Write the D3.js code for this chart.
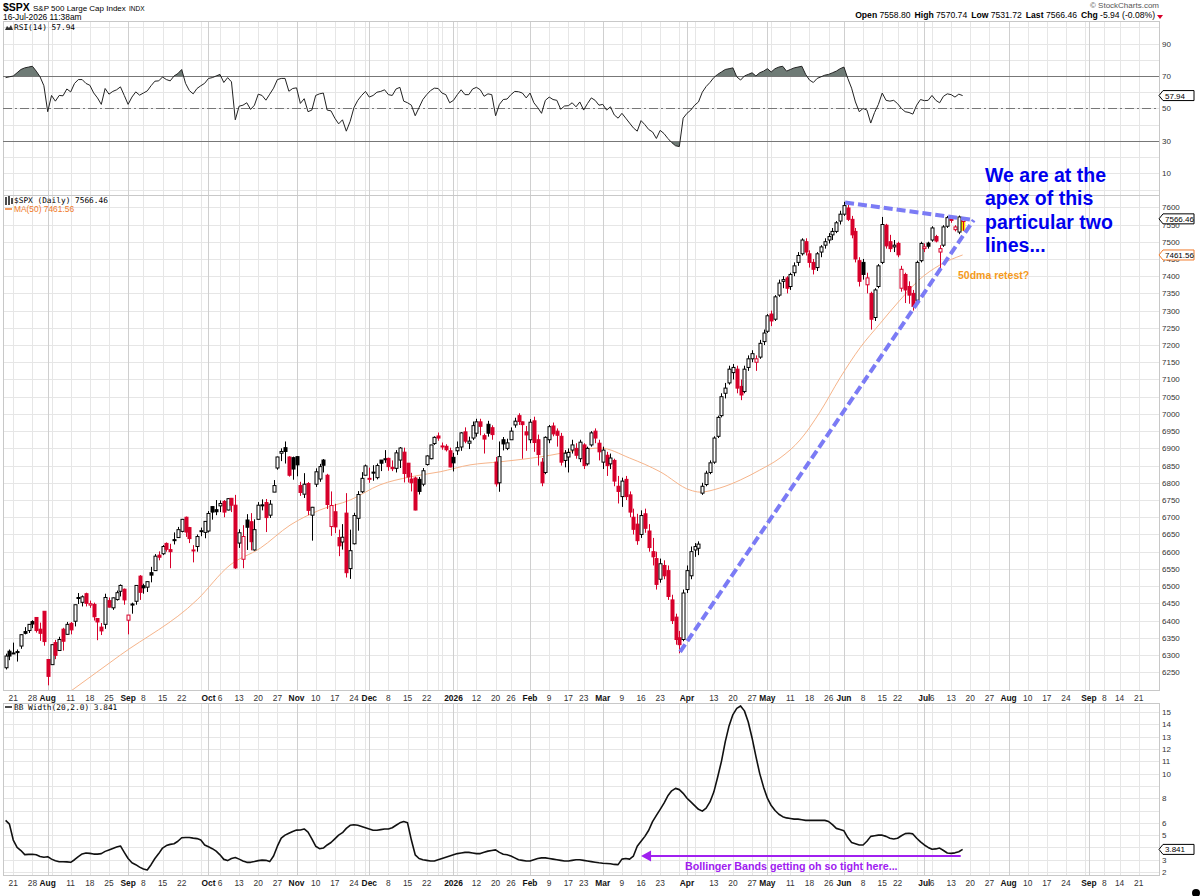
<!DOCTYPE html>
<html><head><meta charset="utf-8">
<script src="https://cdn.jsdelivr.net/npm/d3@7"></script>
<style>body{margin:0;background:#fff}svg{display:block}</style>
</head><body>
<svg id="c" width="1200" height="896"></svg>
<script>
// ---------- DATA ----------
const startDate = "2025-07-17", endDate = "2026-09-25";
const holidays = ["2025-09-01","2025-11-27","2025-12-25","2026-01-01","2026-01-19","2026-02-16","2026-04-03","2026-05-25","2026-06-19","2026-07-03","2026-09-07"];
const prevClose0 = 6264;
const opens = [6263,6311,6304,6307,6326,6368,6371,6397,6409,6375,6427,
6287,6272,6336,6313,6375,6360,6392,6398,6465,6453,6478,6445,6447,6406,6381,6389,6458,6437,6461,6485,6491,
6401,6445,6456,6529,6501,6497,6539,6545,6590,6594,6624,6606,6635,6641,6659,6700,6670,6604,6615,6661,6656,
6660,6731,6722,6733,6746,6721,6755,6735,6625,6578,6692,6687,6605,6694,6736,6743,6706,6773,6843,6886,6902,6875,6873,
6876,6792,6767,6798,6706,6796,6811,6866,6822,6673,6716,6641,6628,6712,6551,6623,6697,6774,6822,
6812,6831,6815,6866,6867,6871,6845,6842,6866,6889,6857,6811,6814,6810,6796,6853,6870,6914,6936,6907,6906,6893,
6874,6893,6904,6948,6915,6930,6944,6977,6937,6970,6960,6860,6800,6925,6900,6925,6968,6995,6977,6948,
6925,6980,6925,6860,6830,6925,6965,6950,6935,6865,6875,6895,6900,6870,6910,6855,6910,6950,6915,
6860,6880,6855,6865,6790,6760,6810,6765,6700,6680,6650,6710,6660,6600,6580,6520,6560,6545,6460,6410,6350,6345,
6490,6530,6605,6610,6770,6795,6830,6860,6935,6995,7060,7090,7120,7130,7080,7065,7135,7160,7150,7165,7210,
7240,7290,7275,7345,7385,7395,7370,7410,7440,7465,7500,7465,7440,7425,7470,7490,7505,7520,7530,7560,
7580,7598,7565,7530,7445,7440,7375,7350,7280,7370,7440,7548,7500,7485,7495,7365,7405,7370,7350,7330,7445,
7480,7496,7505,7515,7470,7490,7545,7566,7535,7528,7558.80];
const highs = [6304,6316,6336,6316,6360,6381,6390,6401,6409,6394,6427,
6288,6330,6344,6353,6379,6396,6396,6446,6480,6473,6481,6458,6452,6407,6393,6478,6467,6467,6487,6505,6493,
6416,6452,6502,6532,6507,6513,6556,6593,6601,6619,6627,6623,6656,6672,6695,6702,6672,6619,6650,6670,6688,
6718,6731,6750,6749,6750,6755,6756,6765,6665,6677,6709,6712,6694,6744,6752,6753,6750,6808,6876,6900,6920,6877,6876,
6877,6803,6828,6802,6730,6842,6855,6869,6826,6775,6739,6664,6680,6770,6664,6713,6776,6831,6853,
6844,6851,6856,6866,6895,6873,6865,6895,6904,6902,6857,6829,6818,6817,6843,6880,6910,6935,6946,6917,6912,6902,
6887,6920,6947,6961,6934,6978,6986,6986,6943,6980,6967,6875,6920,6933,6928,6961,6989,7002,6978,6965,
6985,6992,6940,6872,6935,6968,6975,6958,6945,6895,6900,6925,6915,6925,6915,6905,6950,6958,6925,
6905,6890,6885,6870,6820,6815,6820,6775,6725,6710,6720,6725,6680,6640,6600,6580,6575,6560,6475,6420,6370,6490,
6560,6615,6625,6630,6800,6835,6865,6935,6995,7060,7090,7140,7145,7140,7100,7140,7170,7185,7170,7215,7245,
7290,7300,7345,7390,7400,7400,7410,7440,7470,7510,7510,7475,7450,7470,7490,7510,7525,7540,7560,7590,
7616,7608,7575,7540,7455,7450,7410,7355,7365,7435,7572,7552,7520,7505,7500,7430,7410,7385,7360,7445,7500,
7495,7500,7545,7520,7490,7548,7575,7575,7548,7576,7570.74];
const lows = [6258,6285,6303,6281,6318,6360,6364,6378,6365,6341,6327,
6212,6271,6288,6313,6313,6360,6360,6383,6448,6441,6441,6437,6400,6343,6358,6376,6438,6431,6458,6470,6446,
6360,6420,6446,6460,6478,6483,6511,6545,6575,6590,6600,6552,6621,6640,6656,6643,6625,6569,6600,6645,6639,
6656,6693,6706,6715,6700,6720,6715,6550,6611,6552,6605,6604,6603,6694,6720,6657,6698,6773,6838,6863,6856,6818,6809,
6819,6762,6756,6706,6632,6788,6803,6830,6724,6646,6654,6587,6606,6525,6521,6621,6661,6770,6822,
6800,6806,6810,6834,6858,6835,6834,6830,6843,6801,6801,6775,6720,6766,6790,6850,6868,6910,6922,6896,6891,6845,
6833,6881,6893,6915,6898,6924,6934,6938,6885,6934,6925,6789,6774,6894,6895,6925,6960,6968,6870,6893,
6915,6890,6850,6790,6825,6915,6935,6905,6850,6845,6830,6885,6870,6860,6840,6850,6905,6915,6865,
6840,6820,6840,6790,6740,6730,6750,6700,6650,6620,6640,6655,6600,6560,6490,6510,6520,6460,6390,6330,6305,6340,
6480,6520,6585,6590,6765,6790,6825,6855,6930,6990,7045,7085,7100,7060,7040,7060,7125,7150,7125,7160,7200,
7235,7255,7270,7340,7365,7350,7360,7400,7430,7460,7460,7425,7405,7415,7455,7480,7495,7505,7525,7550,
7575,7560,7510,7440,7370,7390,7350,7245,7270,7365,7435,7480,7470,7470,7455,7355,7322,7320,7300,7325,7440,
7470,7480,7500,7498,7420,7485,7540,7555,7530,7522,7531.72];
const closes = [6297,6297,6306,6310,6359,6363,6389,6390,6371,6363,6339,
6238,6330,6299,6345,6340,6389,6373,6446,6467,6469,6450,6449,6411,6396,6370,6467,6439,6466,6481,6502,6460,
6416,6448,6502,6482,6495,6513,6532,6587,6584,6615,6607,6600,6632,6664,6694,6657,6638,6605,6644,6661,6688,
6711,6715,6716,6740,6715,6754,6735,6553,6655,6644,6671,6629,6664,6735,6735,6699,6738,6792,6875,6891,6891,6822,6840,
6852,6772,6796,6720,6729,6832,6847,6851,6737,6734,6672,6617,6642,6539,6603,6705,6766,6813,6849,
6813,6829,6850,6857,6870,6847,6841,6887,6901,6827,6817,6800,6721,6775,6835,6878,6910,6932,6930,6906,6896,6846,
6858,6902,6945,6921,6921,6966,6977,6964,6927,6944,6940,6797,6876,6913,6916,6950,6979,6978,6969,6939,
6976,6917,6882,6800,6932,6963,6942,6938,6860,6886,6888,6910,6880,6918,6850,6900,6945,6930,6890,
6895,6850,6872,6805,6775,6805,6760,6715,6665,6632,6705,6668,6612,6585,6505,6565,6530,6470,6400,6345,6330,6480,
6545,6600,6615,6622,6790,6828,6858,6930,6990,7050,7075,7130,7135,7075,7055,7130,7160,7175,7160,7205,7235,
7285,7270,7340,7380,7390,7365,7405,7430,7460,7505,7470,7440,7420,7465,7485,7500,7515,7530,7555,7580,
7605,7565,7520,7450,7385,7405,7395,7275,7360,7430,7550,7488,7480,7490,7462,7420,7360,7345,7312,7440,7495,
7485,7487,7540,7502,7480,7543,7570,7562,7543,7572,7566.46];
const rsi = [69,69.5,70,72,74,75,75.5,76,73,69.5,64,
48,58,54.5,58,57.8,62,60.2,65.4,67.8,67.8,65.4,64.3,59.6,56.5,52.5,62.3,58.8,60.5,61.5,63.3,58,
52.5,57,60.2,58.2,59.5,60.8,64,66.8,67,69.4,67.8,67,70,71.5,74,65.5,61,59,62.3,64,65.5,
68.5,69,70,71,66,69,66.4,43,51.4,52,53.5,49.4,52,58.8,58,55.1,58.8,62.5,67.8,68.5,68.5,60.6,62.3,
62.7,53.1,56,48,49,58,59,59.5,49,48.5,44,40.5,43,36,42,50.5,55,58,60.5,
57,58,60,60.5,61.5,58.5,58,62,63,54.5,53.5,52,45.5,50.5,55.5,58.5,61,62.5,62.3,59.5,58.5,53.5,
55,58.5,61.5,58.5,58.5,62,63,61.5,57.5,59,58.5,45.5,52.5,55.5,55.8,58.5,60.5,60.3,59.5,56.5,
59.5,53.5,50.5,47,55,57,55.5,55,49.5,51.5,51.7,53.5,51,54,49,53,56.5,55,52,
52.5,49,51,46,44,47,44,41,38,36,42.5,40,37,35.5,31.5,36.5,34.5,31.5,29,27,26.5,44,
47,49,52,54,60,63.5,66,69,71,72.5,74,74.5,75,69.5,67.5,70,71,72,70,72,73,
74.5,72.5,74.5,75.5,76,73,74,75,75.5,76,71,67.5,66,68.5,69.5,70.5,71,72,73,74.5,
75.5,68.5,62.5,54,48,50,49,41,47.5,52.5,59.5,55,54.5,55,53,50,48,47.5,46.5,52,55.5,
54.8,55,58,55,53.5,57.5,59,58.5,57,58.8,57.94];
const bbWidth = [6.2,5.9,4.6,4.0,3.75,3.42,3.44,3.45,3.4,3.27,3.2,
3.25,3.05,2.92,2.84,2.84,2.83,2.79,3.0,3.25,3.47,3.55,3.52,3.46,3.46,3.5,3.68,3.8,3.92,4.03,4.12,3.6,
3.1,2.75,2.6,2.4,2.25,2.17,2.6,3.1,3.5,3.95,4.15,4.25,4.3,4.5,4.79,4.81,4.81,4.76,4.72,4.6,4.2,
4.05,3.9,3.7,3.4,3.03,2.93,3.1,3.18,3.05,2.9,2.79,2.79,2.85,2.93,2.97,2.95,2.85,3.3,4.1,4.75,5.0,5.15,5.3,
5.41,5.42,5.5,5.25,4.7,4.1,3.9,3.95,4.2,4.4,4.7,5.0,5.2,5.55,5.8,5.85,5.8,5.7,5.6,
5.5,5.4,5.4,5.45,5.5,5.5,5.6,5.8,6.0,6.1,6.0,4.6,3.4,3.1,3.0,2.95,2.9,2.9,3.0,3.1,3.2,3.3,
3.4,3.5,3.55,3.6,3.6,3.55,3.5,3.5,3.6,3.7,3.75,3.8,3.6,3.45,3.4,3.3,3.15,3.0,2.95,2.9,
2.9,3.0,3.1,3.15,3.15,3.1,3.05,3.0,2.95,2.9,2.9,2.95,3.0,3.0,2.95,2.9,2.85,2.8,2.75,
2.72,2.7,2.68,2.62,2.6,3.05,3.1,3.05,3.3,4.1,4.5,4.9,5.4,6.1,6.6,7.1,7.6,8.2,8.6,8.8,8.7,8.4,
8.0,7.7,7.4,7.1,6.95,7.2,7.7,8.5,9.7,11.0,12.6,13.9,14.8,15.3,15.5,15.1,14.2,12.9,11.4,10.0,8.9,
8.0,7.4,7.0,6.7,6.5,6.4,6.35,6.3,6.3,6.25,6.2,6.2,6.2,6.2,6.2,6.2,6.1,5.85,5.55,5.45,
5.35,4.8,4.4,4.3,4.2,4.2,4.5,4.9,4.95,5.0,5.0,4.9,4.75,4.68,4.75,4.95,5.12,5.15,5.1,4.75,4.45,
4.2,4.0,3.85,3.88,3.95,3.75,3.55,3.52,3.56,3.65,3.841];
const maPts = [[17,6195],[30,6300],[50,6460],[58.6,6561],[66.5,6610],[74.3,6677],[82.1,6721],[90,6750],[97.8,6794],[105.6,6817],[113.5,6832],[121.3,6852],[129.2,6861],[139.6,6875],[150,6895],[155.3,6901],[163,6872],[171,6832],[178.8,6779],[181.4,6773],[186.6,6785],[191.9,6808],[197,6837],[202.3,6872],[207.5,6924],[212.7,7005],[218,7105],[223.2,7192],[228.4,7262],[233.6,7330],[238.9,7392],[244,7432],[250,7461.56]];
const priceTicks = d3.range(6250, 7601, 50);
const rsiTicks = [10,30,50,70,90];
const bbTicks = [2,3,5,6,8,10,11,12,13,14,15];
const monthLabels = [["2025-08-01","Aug"],["2025-09-02","Sep"],["2025-10-01","Oct"],["2025-11-03","Nov"],["2025-12-01","Dec"],["2026-01-02","2026"],["2026-02-02","Feb"],["2026-03-02","Mar"],["2026-04-01","Apr"],["2026-05-01","May"],["2026-06-01","Jun"],["2026-07-01","Jul"],["2026-08-03","Aug"],["2026-09-01","Sep"]];
const weekLabels = ["2025-07-21","2025-07-28","2025-08-11","2025-08-18","2025-08-25","2025-09-08","2025-09-15","2025-09-22","2025-10-06","2025-10-13","2025-10-20","2025-10-27","2025-11-10","2025-11-17","2025-11-24","2025-12-08","2025-12-15","2025-12-22","2026-01-12","2026-01-20","2026-01-26","2026-02-09","2026-02-17","2026-02-23","2026-03-09","2026-03-16","2026-03-23","2026-04-13","2026-04-20","2026-04-27","2026-05-11","2026-05-18","2026-05-26","2026-06-08","2026-06-15","2026-06-22","2026-07-06","2026-07-13","2026-07-20","2026-07-27","2026-08-10","2026-08-17","2026-08-24","2026-09-08","2026-09-14","2026-09-21"];
const lastInfo = {open:"7558.80", high:"7570.74", low:"7531.72", last:"7566.46", chg:"-5.94 (-0.08%)"};
const maLast = 7461.56;
const upperLine = [[219.3,7614],[252.9,7563]];
const lowerLine = [[176.2,6309],[252.9,7563]];

// ---------- SETUP ----------
const svg = d3.select("#c");
const fmt = d3.timeFormat("%Y-%m-%d"), parse = d3.timeParse("%Y-%m-%d");
const hol = new Set(holidays);
const days = [];
for (let d = parse(startDate); d <= parse(endDate); d = d3.timeDay.offset(d, 1)) {
  const wd = d.getDay(); if (wd === 0 || wd === 6 || hol.has(fmt(d))) continue; days.push(fmt(d));
}
const idxOf = s => days.indexOf(s);
const L = 3, R = 1159;
const x = d3.scaleLinear().domain([-0.68, 301.3]).range([L, R]);
const P = {rt:21, rb:195, mt:195, mb:690, bt:703, bb:875};
const yP = d3.scaleLinear().domain([6198.4, 7635.7]).range([P.mb, P.mt]);
const yR = d3.scaleLinear().domain([-3.35, 103.9]).range([P.rb, P.rt]);
const yB = d3.scaleLinear().domain([1.76, 15.74]).range([P.bb, P.bt]);
const SANS = "Liberation Sans, Arial, sans-serif", MONO = "DejaVu Sans Mono, monospace";
const RED = "#d7002b";
const N = closes.length;
const rsiLast = rsi[N-1], bbLast = bbWidth[N-1];

const weekStarts = [], monthStarts = [];
days.forEach((s, i) => {
  if (i === 0) return;
  const d = parse(s), p = parse(days[i-1]);
  if (d3.timeDay.count(p, d) > 1 || d.getDay() < p.getDay()) weekStarts.push(i);
  if (d.getMonth() !== p.getMonth()) monthStarts.push(i);
});

function panel(top, bot, yScale, hTicks) {
  const g = svg.append("g");
  g.selectAll(".hg").data(hTicks).join("line")
    .attr("x1", L).attr("x2", R).attr("y1", d => Math.round(yScale(d))+0.5).attr("y2", d => Math.round(yScale(d))+0.5)
    .attr("stroke", "#e6e6e6");
  g.selectAll(".wg").data(weekStarts).join("line")
    .attr("x1", d => Math.round(x(d))+0.5).attr("x2", d => Math.round(x(d))+0.5).attr("y1", top).attr("y2", bot)
    .attr("stroke", "#e6e6e6");
  g.selectAll(".mg").data(monthStarts).join("line")
    .attr("x1", d => Math.round(x(d))+0.5).attr("x2", d => Math.round(x(d))+0.5).attr("y1", top).attr("y2", bot)
    .attr("stroke", "#cfcfcf");
  g.append("rect").attr("x", L+0.5).attr("y", top+0.5).attr("width", R-L).attr("height", bot-top)
    .attr("fill", "none").attr("stroke", "#c8c8c8");
  return g;
}

// ---------- HEADER ----------
const hdr = svg.append("g").attr("font-family", SANS);
hdr.append("text").attr("x", 3).attr("y", 11).attr("font-size", 10.5).attr("font-weight", "bold").text("$SPX");
hdr.append("text").attr("x", 33).attr("y", 11).attr("font-size", 8).text("S&P 500 Large Cap Index");
hdr.append("text").attr("x", 129).attr("y", 11).attr("font-size", 6.5).text("INDX");
hdr.append("text").attr("x", 3).attr("y", 19.5).attr("font-size", 8.4).text("16-Jul-2026 11:38am");
hdr.append("text").attr("x", 1159).attr("y", 8).attr("font-size", 8).attr("fill", "#555").attr("text-anchor", "end").text("© StockCharts.com");
const info = hdr.append("text").attr("x", 1155).attr("y", 18).attr("font-size", 8.6).attr("text-anchor", "end");
[["Open ", lastInfo.open], ["High ", lastInfo.high], ["Low ", lastInfo.low], ["Last ", lastInfo.last], ["Chg ", lastInfo.chg]].forEach(([k, v], i) => {
  info.append("tspan").attr("font-weight", "bold").attr("dx", i ? 4 : 0).text(k);
  info.append("tspan").text(v);
});
hdr.append("path").attr("d", "M1157,15 L1163,15 L1160,19 Z").attr("fill", RED);

// ---------- RSI PANEL ----------
const gr = panel(P.rt, P.rb, yR, d3.range(0, 101, 10));
svg.append("clipPath").attr("id", "hi").append("rect").attr("x", L).attr("y", P.rt).attr("width", R-L).attr("height", yR(70)-P.rt);
gr.append("path").datum(rsi).attr("clip-path", "url(#hi)")
  .attr("d", d3.area().x((d, i) => x(i)).y0(yR(70)).y1(d => yR(d))).attr("fill", "#6f7b76");
svg.append("clipPath").attr("id", "lo").append("rect").attr("x", L).attr("y", yR(30)).attr("width", R-L).attr("height", P.rb-yR(30));
gr.append("path").datum(rsi).attr("clip-path", "url(#lo)")
  .attr("d", d3.area().x((d, i) => x(i)).y0(yR(30)).y1(d => yR(d))).attr("fill", "#6f7b76");
[70, 30].forEach(v => gr.append("line").attr("x1", L).attr("x2", R).attr("y1", Math.round(yR(v))+0.5).attr("y2", Math.round(yR(v))+0.5).attr("stroke", "#777"));
gr.append("line").attr("x1", L).attr("x2", R).attr("y1", Math.round(yR(50))+0.5).attr("y2", Math.round(yR(50))+0.5).attr("stroke", "#777").attr("stroke-dasharray", "9,3,2,3");
gr.append("path").datum(rsi).attr("d", d3.line().x((d, i) => x(i)).y(d => yR(d))).attr("fill", "none").attr("stroke", "#222").attr("stroke-width", 1);
gr.selectAll(".rt").data(rsiTicks).join("text").attr("x", R+3).attr("y", d => yR(d)+3).attr("font-size", 8).attr("font-family", SANS).attr("fill", "#333").text(d => d);
gr.append("text").attr("x", 14).attr("y", 30).attr("font-size", 7.8).attr("font-family", MONO).text("RSI(14) " + rsiLast);
gr.append("path").attr("d", "M5,30 L7,26 L9,28 L11,25 L13,30 Z").attr("fill", "#333");

// ---------- MAIN PANEL ----------
const gm = panel(P.mt, P.mb, yP, priceTicks);
gm.selectAll(".pt").data(priceTicks).join("text").attr("x", R+3).attr("y", d => yP(d)+3).attr("font-size", 8).attr("font-family", SANS).attr("fill", "#333").text(d => d);
svg.append("clipPath").attr("id", "mc").append("rect").attr("x", L).attr("y", P.mt).attr("width", R-L).attr("height", P.mb-P.mt);
gm.append("path").datum(maPts).attr("clip-path", "url(#mc)")
  .attr("d", d3.line().x(d => x(d[0])).y(d => yP(d[1])).curve(d3.curveMonotoneX))
  .attr("fill", "none").attr("stroke", "#f6b48a").attr("stroke-width", 1);
gm.append("rect").attr("x", x(N-1)-2.7).attr("y", yP(highs[N-1])).attr("width", 5.4).attr("height", yP(lows[N-1])-yP(highs[N-1])).attr("fill", "#ffe400");
const cg = gm.append("g");
closes.forEach((c, i) => {
  const o = opens[i], prev = i ? closes[i-1] : prevClose0;
  const col = c >= prev ? "#000" : RED;
  const cx = Math.round(x(i)) + 0.5;
  cg.append("line").attr("x1", cx).attr("x2", cx).attr("y1", yP(highs[i])).attr("y2", yP(lows[i])).attr("stroke", col);
  const top = yP(Math.max(o, c)), bot = yP(Math.min(o, c));
  cg.append("rect").attr("x", cx-1.5).attr("y", top).attr("width", 3).attr("height", Math.max(1, bot-top))
    .attr("fill", c < o ? col : "#fff").attr("stroke", col).attr("stroke-width", 1);
});
gm.append("text").attr("x", 14).attr("y", 203).attr("font-size", 7.8).attr("font-family", MONO).text("$SPX (Daily) " + lastInfo.last);
gm.append("path").attr("d", "M6,197 v8 M9,196 v9 M12,198 v6").attr("stroke", "#222").attr("stroke-width", 1.6);
gm.append("line").attr("x1", 5).attr("x2", 12).attr("y1", 209).attr("y2", 209).attr("stroke", "#f07a2a").attr("stroke-width", 1.5);
gm.append("text").attr("x", 14).attr("y", 212).attr("font-size", 8.4).attr("font-family", SANS).attr("fill", "#f07a2a").text("MA(50) " + maLast);

// ---------- BB PANEL ----------
const gb = panel(P.bt, P.bb, yB, d3.range(2, 16, 1));
gb.selectAll(".bt").data(bbTicks).join("text").attr("x", R+3).attr("y", d => yB(d)+3).attr("font-size", 8).attr("font-family", SANS).attr("fill", "#333").text(d => d);
gb.append("path").datum(bbWidth).attr("d", d3.line().x((d, i) => x(i)).y(d => yB(d)))
  .attr("fill", "none").attr("stroke", "#111").attr("stroke-width", 1.6).attr("stroke-linejoin", "round");
gb.append("line").attr("x1", 5).attr("x2", 12).attr("y1", 707).attr("y2", 707).attr("stroke", "#111").attr("stroke-width", 1.5);
gb.append("text").attr("x", 14).attr("y", 710).attr("font-size", 7.8).attr("font-family", MONO).text("BB Width(20,2.0) " + bbLast);

// ---------- X AXES ----------
[P.mb + 11, P.bb + 11].forEach(yy => {
  const ax = svg.append("g").attr("font-family", SANS).attr("font-size", 8.4).attr("fill", "#333").attr("text-anchor", "middle");
  ax.selectAll(".wl").data(weekLabels).join("text").attr("x", d => x(idxOf(d))).attr("y", yy).text(d => +d.slice(8));
  ax.selectAll(".ml").data(monthLabels).join("text").attr("x", d => x(idxOf(d[0]))).attr("y", yy).attr("font-weight", "bold").attr("fill", "#111").text(d => d[1]);
});

// ---------- VALUE TAGS ----------
function tag(y, txt, stroke) {
  const g = svg.append("g");
  g.append("path").attr("d", `M${R},${y} L${R+4},${y-5} L${R+35},${y-5} L${R+35},${y+5} L${R+4},${y+5} Z`)
    .attr("fill", "#fff").attr("stroke", stroke);
  g.append("text").attr("x", R+6).attr("y", y+3).attr("font-size", 8).attr("font-family", SANS).attr("fill", "#000").text(txt);
}
tag(yR(rsiLast), rsiLast.toFixed(2), "#000");
tag(yP(closes[N-1]), lastInfo.last, "#000");
tag(yP(maLast), maLast.toFixed(2), "#f07a2a");
tag(yB(bbLast), bbLast.toFixed(3), "#000");

// ---------- ANNOTATIONS ----------
[upperLine, lowerLine].forEach(ln => svg.append("line")
  .attr("x1", x(ln[0][0])).attr("y1", yP(ln[0][1])).attr("x2", x(ln[1][0])).attr("y2", yP(ln[1][1]))
  .attr("stroke", "#7b7bf5").attr("stroke-width", 4).attr("stroke-dasharray", "9,4"));
const ann = svg.append("g").attr("font-family", SANS).attr("font-weight", "bold").attr("font-size", 19.5).attr("fill", "#0000ee");
["We are at the", "apex of this", "particular two", "lines..."].forEach((t, i) => ann.append("text").attr("x", 985).attr("y", 182 + i*23.3).text(t));
svg.append("text").attr("x", 958).attr("y", 279).attr("font-family", SANS).attr("font-weight", "bold").attr("font-size", 10.5).attr("fill", "#f59a1b").text("50dma retest?");
const pur = "#a020f0";
svg.append("line").attr("x1", x(249.5)).attr("x2", x(167)).attr("y1", 856).attr("y2", 856).attr("stroke", pur).attr("stroke-width", 2);
svg.append("path").attr("d", `M${x(166)},856 l10,-5.5 l0,11 Z`).attr("fill", pur);
svg.append("text").attr("x", 685).attr("y", 870).attr("font-family", SANS).attr("font-weight", "bold").attr("font-size", 10.7).attr("fill", pur).text("Bollinger Bands getting oh so tight here...");
svg.append("circle").attr("cx", 1196).attr("cy", 893).attr("r", 4).attr("fill", "#000");
</script>
</body></html>
